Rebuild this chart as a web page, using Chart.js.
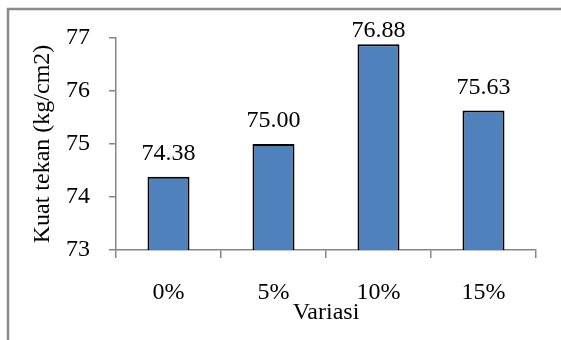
<!DOCTYPE html>
<html>
<head>
<meta charset="utf-8">
<script src="https://cdn.jsdelivr.net/npm/chart.js@4/dist/chart.umd.min.js"></script>
<style>
  html, body { margin: 0; padding: 0; background: #ffffff; }
  #wrap { position: relative; width: 561px; height: 340px; }
  .fontprobe { font-family: "Liberation Serif"; position: absolute; left: -9999px; }
</style>
</head>
<body>
<span class="fontprobe">Kuat 0123456789</span>
<div id="wrap"><canvas id="chart" width="561" height="340"></canvas></div>
<script>
// Compressive strength per variation
const categories = ['0%', '5%', '10%', '15%'];
const strengthValues = [74.38, 75.00, 76.88, 75.63];
const yTicks = [73, 74, 75, 76, 77];

const serif = '"Liberation Serif", "Times New Roman", Times, serif';
const axisGray = '#868686';

// Gray frame along the top and left edges of the figure
const framePlugin = {
  id: 'frame',
  beforeDraw(chart) {
    const ctx = chart.ctx;
    ctx.save();
    ctx.strokeStyle = '#8a8a8a';
    ctx.lineWidth = 2.5;
    ctx.beginPath();
    ctx.moveTo(8, chart.height);
    ctx.lineTo(8, 9);
    ctx.lineTo(chart.width, 9);
    ctx.stroke();
    ctx.restore();
  }
};

// Value labels above each bar
const valueLabels = {
  id: 'valueLabels',
  afterDatasetsDraw(chart) {
    const ctx = chart.ctx;
    const meta = chart.getDatasetMeta(0);
    const data = chart.data.datasets[0].data;
    ctx.save();
    ctx.font = '24px ' + serif;
    ctx.fillStyle = '#000000';
    ctx.textAlign = 'center';
    ctx.textBaseline = 'alphabetic';
    meta.data.forEach((bar, i) => {
      const y = Math.max(bar.y - 17, chart.chartArea.top - 1);
      ctx.fillText(data[i].toFixed(2), bar.x, y);
    });
    ctx.restore();
  }
};

function build() {
  new Chart(document.getElementById('chart'), {
    type: 'bar',
    data: {
      labels: categories,
      datasets: [{
        data: strengthValues,
        backgroundColor: '#4f81bd',
        borderColor: '#000000',
        borderWidth: 2,
        borderSkipped: 'start',
        barPercentage: 0.4,
        categoryPercentage: 1.0
      }]
    },
    options: {
      responsive: false,
      animation: false,
      devicePixelRatio: 1,
      layout: { padding: { top: 38, right: 25, left: 0, bottom: 0 } },
      plugins: {
        legend: { display: false },
        tooltip: { enabled: false }
      },
      scales: {
        x: {
          afterFit(scale) { scale.height = 90; },
          grid: {
            display: true,
            offset: true,
            drawOnChartArea: false,
            drawTicks: true,
            tickLength: 8,
            color: axisGray,
            lineWidth: 1.5
          },
          border: { display: true, color: axisGray, width: 1.5 },
          ticks: {
            color: '#000000',
            padding: 20,
            font: { family: serif, size: 24, lineHeight: 1.2 }
          },
          title: {
            display: true,
            text: 'Variasi',
            color: '#000000',
            padding: { top: 0, bottom: 13 },
            font: { family: serif, size: 24, lineHeight: 1.2 }
          }
        },
        y: {
          min: 73,
          max: 77,
          afterFit(scale) { scale.width = 116; },
          afterBuildTicks(scale) { scale.ticks = yTicks.map(v => ({ value: v })); },
          grid: {
            display: true,
            drawOnChartArea: false,
            drawTicks: true,
            tickLength: 7,
            color: axisGray,
            lineWidth: 1.5
          },
          border: { display: true, color: axisGray, width: 1.5 },
          ticks: {
            color: '#000000',
            padding: 19,
            font: { family: serif, size: 24, lineHeight: 1.2 },
            callback: (v) => String(v)
          },
          title: {
            display: true,
            text: 'Kuat tekan (kg/cm2)',
            color: '#000000',
            padding: { top: 28, bottom: 0 },
            font: { family: serif, size: 24, lineHeight: 1.2 }
          }
        }
      }
    },
    plugins: [framePlugin, valueLabels]
  });
}

if (document.fonts && document.fonts.load) {
  document.fonts.load('24px "Liberation Serif"').then(build, build);
} else {
  build();
}
</script>
</body>
</html>
